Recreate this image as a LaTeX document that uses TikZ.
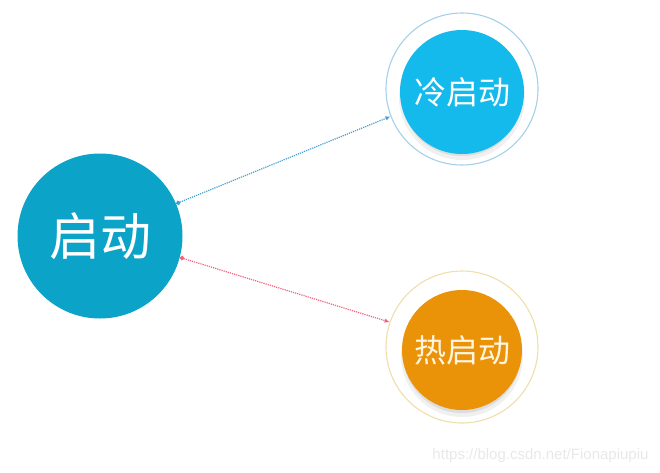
\documentclass[tikz,border=0pt]{standalone}
\usepackage{fontspec}
\newfontfamily\cjk{Noto Sans CJK SC}
\setsansfont{Liberation Sans}
\usetikzlibrary{arrows.meta}
\definecolor{mainblue}{RGB}{12,163,200}
\definecolor{coldblue}{RGB}{20,186,236}
\definecolor{coldring}{RGB}{165,208,234}
\definecolor{hotorange}{RGB}{234,146,8}
\definecolor{hotring}{RGB}{240,222,172}
\definecolor{linkblue}{RGB}{70,160,205}
\definecolor{linkred}{RGB}{238,100,125}
\definecolor{hottext}{RGB}{255,245,225}
\definecolor{wm}{RGB}{232,232,232}
\tikzset{
  ring/.style={circle,draw=#1,line width=1.1pt,fill=white,inner sep=0pt,minimum size=152pt},
  ball/.style={circle,fill=#1,inner sep=0pt,text=white,font=\cjk\fontsize{32}{32}\selectfont},
  shade/.style={circle,fill=black,opacity=#1,inner sep=0pt},
  link/.style={draw=#1,densely dotted,line width=1.2pt,{Circle[length=4.5pt]}-{Latex[length=5pt,width=4.5pt]}}
}
\begin{document}
\begin{tikzpicture}[x=1pt,y=-1pt]
\useasboundingbox (0,0) rectangle (660,472);
% main circle
\node[circle,fill=mainblue,inner sep=0pt,minimum size=165pt,text=white,font=\cjk\fontsize{51}{51}\selectfont] (main) at (100,236) {启动};
% cold
\node[ring=coldring] (coldring) at (462,89) {};
\node[shade=0.06,minimum size=126pt] (coldsh1) at (462,97) {};
\node[shade=0.08,minimum size=122pt] (coldsh2) at (462,95) {};
\node[ball=coldblue,minimum size=124pt] (cold) at (462,92) {冷启动};
% hot
\node[ring=hotring] (hotring) at (462,347) {};
\node[shade=0.06,minimum size=122pt] (hotsh1) at (462,356) {};
\node[shade=0.08,minimum size=118pt] (hotsh2) at (462,354) {};
\node[ball=hotorange,minimum size=120pt,text=hottext] (hot) at (462,350) {热启动};
% links
\draw[link=linkblue] (main.23) -- (coldring.201);
\draw[link=linkred] (main.-15.5) -- (hotring.161.6);
% watermark
\node[text=wm,font=\sffamily\fontsize{15}{15}\selectfont,anchor=east] (wmark) at (652,456) {https://blog.csdn.net/Fionapiupiu};
\end{tikzpicture}
\end{document}
